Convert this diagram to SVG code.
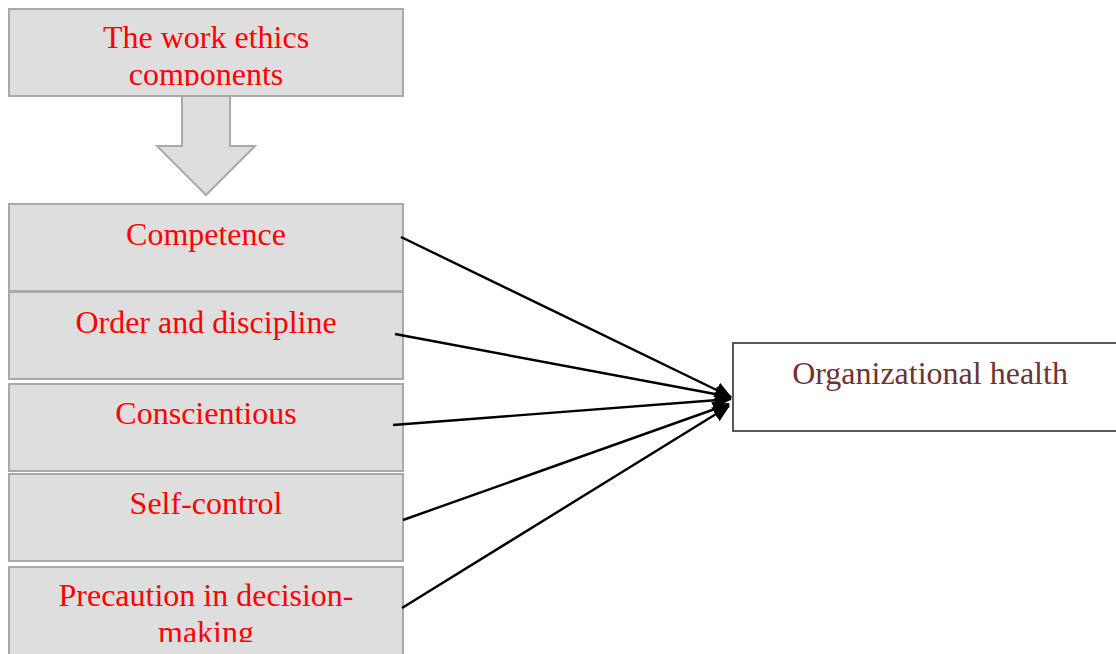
<svg xmlns="http://www.w3.org/2000/svg" width="1116" height="654" viewBox="0 0 1116 654">
<style>
.box{fill:#dedede;stroke:#a9a9a9;stroke-width:2}
.lbl{font-family:"Liberation Serif","Times New Roman",serif;font-size:32px;fill:#ff0000;text-anchor:middle}
.out{fill:#ffffff;stroke:#595959;stroke-width:2}
.olbl{font-family:"Liberation Serif","Times New Roman",serif;font-size:32px;fill:#6b3333;text-anchor:middle}
.con{stroke:#000;stroke-width:2.4;fill:none;marker-end:url(#ah)}
</style>
<defs>
<marker id="ah" markerUnits="userSpaceOnUse" markerWidth="18" markerHeight="16" refX="16" refY="8" orient="auto">
<path d="M0,0 L17,8 L0,16 Z" fill="#000"/>
</marker>
<clipPath id="c1"><rect x="9" y="9" width="394" height="77"/></clipPath>
<clipPath id="c5"><rect x="9" y="566" width="394" height="76"/></clipPath>
</defs>
<rect width="1116" height="654" fill="#fff"/>
<g id="top">
<rect class="box" x="9" y="9" width="394" height="87"/>
<g clip-path="url(#c1)">
<text class="lbl" x="206" y="48">The work ethics</text>
<text class="lbl" x="206" y="85">components</text>
</g>
</g>
<g id="bigarrow">
<path d="M182,96 L230,96 L230,146 L255,146 L206,195 L157,146 L182,146 Z" fill="#dedede" stroke="#a9a9a9" stroke-width="2"/>
</g>
<g id="competence">
<rect class="box" x="9" y="204" width="394" height="87"/>
<text class="lbl" x="206" y="245">Competence</text>
</g>
<g id="order">
<rect class="box" x="9" y="292" width="394" height="87"/>
<text class="lbl" x="206" y="333">Order and discipline</text>
</g>
<g id="conscientious">
<rect class="box" x="9" y="384" width="394" height="87"/>
<text class="lbl" x="206" y="424">Conscientious</text>
</g>
<g id="selfcontrol">
<rect class="box" x="9" y="474" width="394" height="87"/>
<text class="lbl" x="206" y="514">Self-control</text>
</g>
<g id="precaution">
<rect class="box" x="9" y="567" width="394" height="90"/>
<g clip-path="url(#c5)">
<text class="lbl" x="206" y="606">Precaution in decision-</text>
<text class="lbl" x="206" y="643">making</text>
</g>
</g>
<g id="health">
<rect class="out" x="733" y="343" width="390" height="88"/>
<text class="olbl" x="930" y="384">Organizational health</text>
</g>
<g id="connectors">
<line class="con" x1="401" y1="237" x2="731" y2="397"/>
<line class="con" x1="395" y1="334" x2="731" y2="397"/>
<line class="con" x1="393" y1="425" x2="731" y2="399"/>
<line class="con" x1="403" y1="520" x2="729" y2="404"/>
<line class="con" x1="402" y1="608" x2="729" y2="406"/>
</g>
</svg>
